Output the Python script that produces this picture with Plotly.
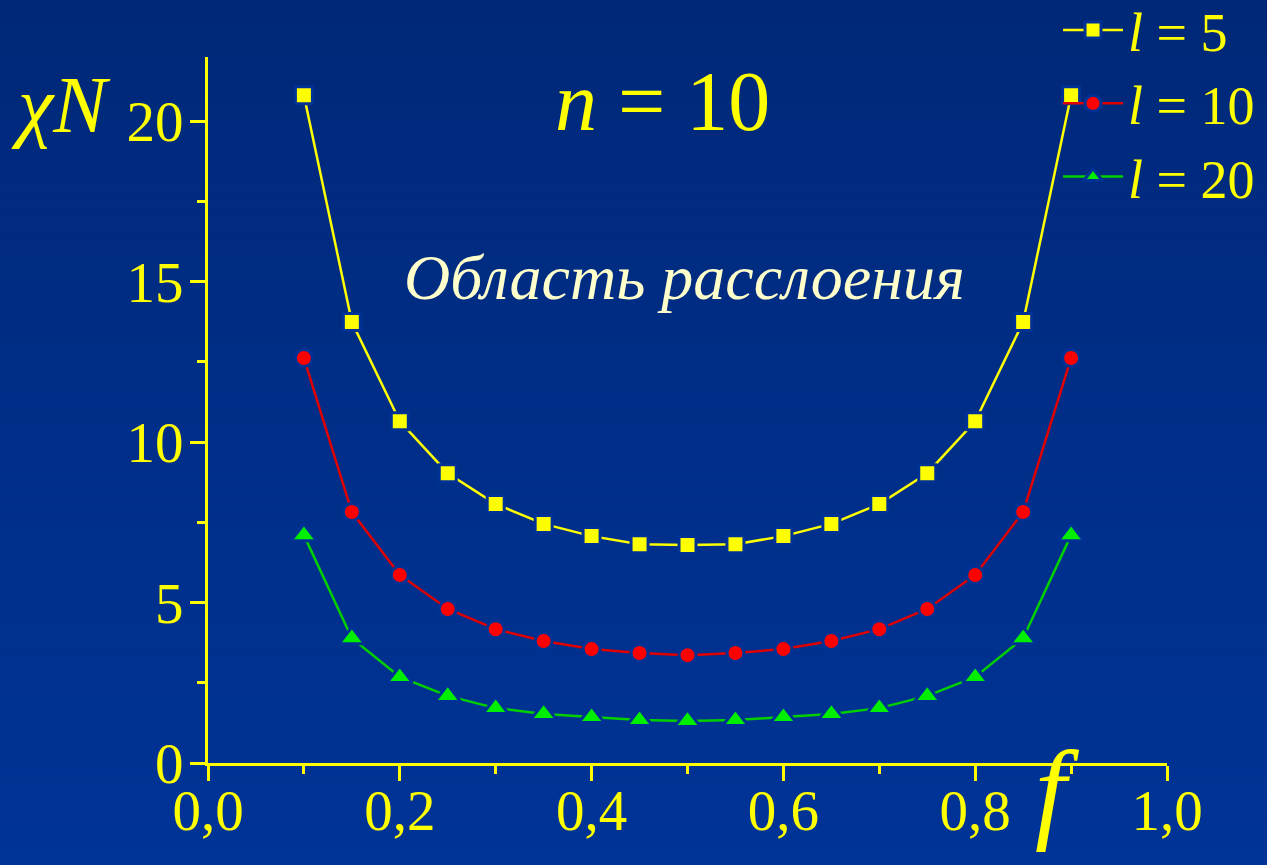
import plotly.graph_objects as go

# Composition fraction f
f_vals = [0.10, 0.15, 0.20, 0.25, 0.30, 0.35, 0.40, 0.45, 0.50,
          0.55, 0.60, 0.65, 0.70, 0.75, 0.80, 0.85, 0.90]

# Spinodal chi*N for n = 10 at different block lengths l
chiN_l5 = [20.81, 13.74, 10.65, 9.03, 8.07, 7.45, 7.07, 6.82, 6.79,
           6.82, 7.07, 7.45, 8.07, 9.03, 10.65, 13.74, 20.81]
chiN_l10 = [12.62, 7.82, 5.86, 4.80, 4.17, 3.80, 3.55, 3.43, 3.36,
            3.43, 3.55, 3.80, 4.17, 4.80, 5.86, 7.82, 12.62]
chiN_l20 = [7.10, 3.89, 2.68, 2.09, 1.71, 1.53, 1.43, 1.34, 1.31,
            1.34, 1.43, 1.53, 1.71, 2.09, 2.68, 3.89, 7.10]

x_ticks = [0.0, 0.2, 0.4, 0.6, 0.8, 1.0]
x_ticktext = ["0,0", "0,2", "0,4", "0,6", "0,8", "1,0"]
y_ticks = [0, 5, 10, 15, 20]

YELLOW = "#FFFF00"
SERIF = "Liberation Serif"
GAP = "rgb(0,50,150)"

fig = go.Figure()

series = [
    ("<i>l</i> = 5", chiN_l5, "#FFFF00", "#FFFF00", "square", 17),
    ("<i>l</i> = 10", chiN_l10, "#E00000", "#FF0000", "circle", 17),
    ("<i>l</i> = 20", chiN_l20, "#00D000", "#00EE00", "triangle-up", 22),
]
for name, ys, lc, mc, sym, sz in series:
    fig.add_trace(go.Scatter(
        x=f_vals, y=ys, name=name, mode="lines+markers",
        line=dict(color=lc, width=2.5),
        marker=dict(symbol=sym, size=sz, color=mc,
                    line=dict(color=GAP, width=3)),
        cliponaxis=False,
    ))

# Vertical gradient background built from thin bands
n_bands = 60
top_rgb = (0, 40, 120)
bot_rgb = (0, 52, 152)
shapes = []
for i in range(n_bands):
    t = i / (n_bands - 1)
    r = round(top_rgb[0] + (bot_rgb[0] - top_rgb[0]) * t)
    g = round(top_rgb[1] + (bot_rgb[1] - top_rgb[1]) * t)
    b = round(top_rgb[2] + (bot_rgb[2] - top_rgb[2]) * t)
    y1 = 1 - i / n_bands
    y0 = 1 - (i + 1) / n_bands
    shapes.append(dict(
        type="rect", xref="paper", yref="paper", layer="below",
        x0=-0.3, x1=1.2, y0=-0.2 + y0 * 1.3, y1=-0.2 + y1 * 1.3 + 0.01,
        fillcolor=f"rgb({r},{g},{b})", line=dict(width=0),
    ))


def label(text, x, y, size, color=YELLOW):
    return dict(text=text, x=x, y=y, xref="paper", yref="paper",
                xanchor="center", yanchor="middle", showarrow=False,
                font=dict(family=SERIF, size=size, color=color))


annotations = [
    label("<i>χN</i>", -0.153, 0.932, 80),
    label("<i>n</i> = 10", 0.474, 0.937, 84),
    label("<i>Область расслоения</i>", 0.497, 0.687, 64, "#FFFFCC"),
    label("<i>f</i>", 0.886, -0.038, 112),
]

axis_common = dict(
    showline=True, linecolor=YELLOW, linewidth=3,
    ticks="outside", tickcolor=YELLOW, tickwidth=3, ticklen=15,
    showgrid=False, zeroline=False, mirror=False,
    tickfont=dict(family=SERIF, size=57, color=YELLOW),
)

fig.update_layout(
    width=1267, height=865,
    margin=dict(l=208, r=100, t=57, b=102, autoexpand=False),
    paper_bgcolor="rgb(0,46,136)",
    plot_bgcolor="rgba(0,0,0,0)",
    shapes=shapes,
    annotations=annotations,
    xaxis=dict(range=[0, 1], tickvals=x_ticks, ticktext=x_ticktext,
               ticklabelstandoff=-19,
               minor=dict(dtick=0.1, ticks="outside", ticklen=8,
                          tickcolor=YELLOW, tickwidth=3),
               **axis_common),
    yaxis=dict(range=[0, 22], tickvals=y_ticks, ticklabelstandoff=-5,
               minor=dict(tick0=0, dtick=2.5, ticks="outside", ticklen=8,
                          tickcolor=YELLOW, tickwidth=3),
               **axis_common),
    showlegend=True,
    legend=dict(x=1.097, y=1.097, xanchor="right", yanchor="top",
                bgcolor="rgba(0,0,0,0)", borderwidth=0,
                font=dict(family=SERIF, size=54, color=YELLOW),
                itemwidth=60, tracegroupgap=0),
)

fig.write_html("out.html")
